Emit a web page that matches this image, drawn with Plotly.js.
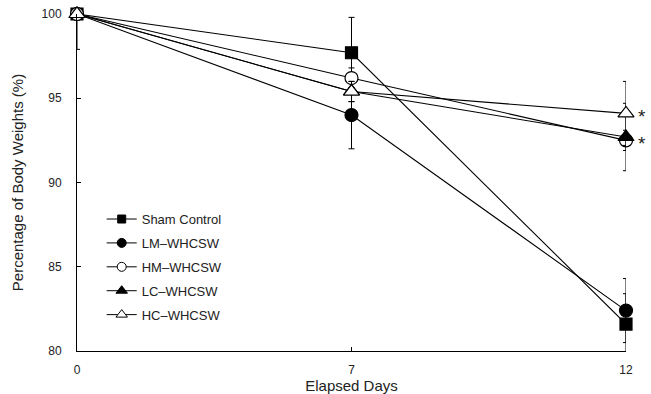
<!DOCTYPE html>
<html>
<head>
<meta charset="utf-8">
<script src="https://cdn.plot.ly/plotly-3.0.1.min.js"></script>
<style>html,body{margin:0;padding:0;background:#fff;}#chart{width:651px;height:394px;}</style>
</head>
<body>
<div id="chart"></div>
<script>
const days = ['0', '7', '12'];
const seriesNames = ['Sham Control', 'LM\u2013WHCSW', 'HM\u2013WHCSW', 'LC\u2013WHCSW', 'HC\u2013WHCSW'];
const shamValues = [100, 97.7, 81.6];
const lmValues = [100, 94.0, 82.4];
const hmValues = [100, 96.2, 92.5];
const lcValues = [100, 95.4, 92.7];
const hcValues = [100, 95.4, 94.1];
const shamErrPlus = [0, 2.1, 1.8];
const shamErrMinus = [2.1, 2.1, 1.8];
const lmErr = [0, 2.0, 1.9];
const hmErr = [0, 0.6, 0.6];
const lcErr = [0, 0.6, 2.0];
const hcErr = [0, 0.6, 1.9];
const yTicks = [80, 85, 90, 95, 100];
const starLabels = [{day: '12', value: 94.1}, {day: '12', value: 92.5}];

const values = [shamValues, lmValues, hmValues, lcValues, hcValues];
const symbols = ['square', 'circle', 'circle', 'triangle-up', 'triangle-up'];
const fills = ['black', 'black', 'white', 'black', 'white'];
const sizes = [12, 13, 13, 14, 14];
const legendSizes = [8, 9, 9, 10, 10];
const errs = [
  {plus: shamErrPlus, minus: shamErrMinus},
  {plus: lmErr, minus: lmErr},
  {plus: hmErr, minus: hmErr},
  {plus: lcErr, minus: lcErr},
  {plus: hcErr, minus: hcErr}
];

const traces = values.map((v, i) => ({
  type: 'scatter',
  mode: 'lines+markers',
  x: days,
  y: v,
  name: seriesNames[i],
  showlegend: false,
  cliponaxis: false,
  line: {color: 'black', width: 1.1},
  marker: {symbol: symbols[i], size: sizes[i], color: fills[i], line: {color: 'black', width: 1.2}},
  error_y: {type: 'data', symmetric: false, array: errs[i].plus, arrayminus: errs[i].minus,
            color: 'black', thickness: 1, width: 3}
}));

// legend entries (smaller symbols, as in the printed key)
const legendTraces = seriesNames.map((n, i) => ({
  type: 'scatter',
  mode: 'lines+markers',
  x: [null], y: [null],
  name: n,
  legendgroup: 'g' + i,
  line: {color: 'black', width: 1},
  marker: {symbol: symbols[i], size: legendSizes[i], color: fills[i], line: {color: 'black', width: 1}}
}));

const font = {family: '"Liberation Sans", Arial, Helvetica, sans-serif', color: '#222'};

const layout = {
  width: 651, height: 394,
  margin: {l: 77, r: 25, t: 14, b: 43},
  paper_bgcolor: 'white', plot_bgcolor: 'white',
  font: Object.assign({size: 12}, font),
  showlegend: true,
  legend: {x: 0.045, y: 0.436, xanchor: 'left', yanchor: 'top', bgcolor: 'rgba(0,0,0,0)',
           font: Object.assign({size: 13}, font), tracegroupgap: 4},
  xaxis: {type: 'category', range: [0, 2], showline: true, linecolor: 'black', linewidth: 1,
          showgrid: false, zeroline: false, ticks: 'inside', ticklen: 4, tickcolor: 'black',
          ticklabelstandoff: 8,
          tickfont: Object.assign({size: 12}, font),
          title: {text: 'Elapsed Days', font: Object.assign({size: 15}, font), standoff: 0}},
  yaxis: {range: [80, 100], tickvals: yTicks, showline: true, linecolor: 'black', linewidth: 1,
          showgrid: false, zeroline: false, ticks: 'inside', ticklen: 4, tickcolor: 'black',
          ticklabelstandoff: 12,
          tickfont: Object.assign({size: 12}, font),
          title: {text: 'Percentage of Body Weights (%)', font: Object.assign({size: 15}, font), standoff: 14}},
  annotations: starLabels.map(s => ({x: days.indexOf(s.day), y: s.value, xref: 'x', yref: 'y', text: '*',
    showarrow: false, xshift: 16, yshift: -3, font: Object.assign({size: 19}, font)}))
};

Plotly.newPlot('chart', traces.concat(legendTraces), layout, {staticPlot: true, displayModeBar: false});
</script>
</body>
</html>
